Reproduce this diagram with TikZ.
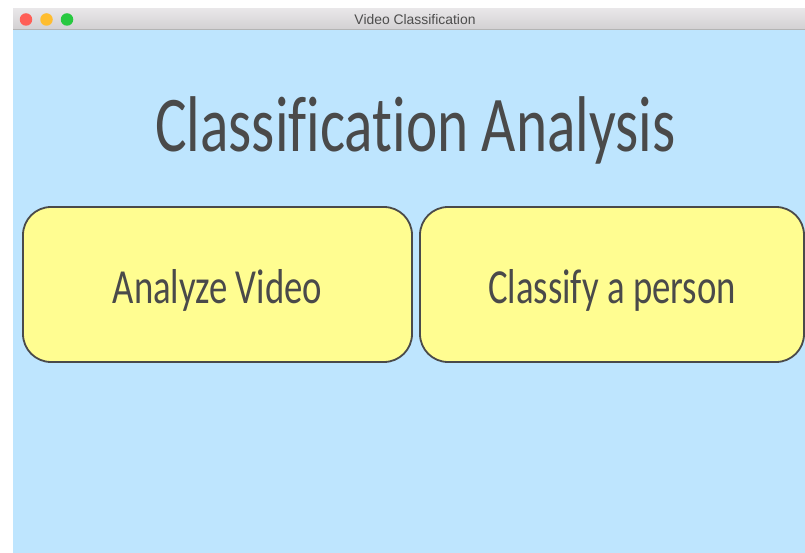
\documentclass[tikz,border=0pt]{standalone}
\usepackage{fontspec}
\usepackage{graphicx}
\setmainfont{Carlito}[Ligatures=NoCommon]
\newfontfamily\barfont{Liberation Sans}

\definecolor{pagebg}{RGB}{255,255,255}
\definecolor{winbg}{RGB}{190,229,254}
\definecolor{bartop}{RGB}{232,230,232}
\definecolor{barbottom}{RGB}{210,208,210}
\definecolor{barline}{RGB}{180,180,180}
\definecolor{bartext}{RGB}{77,77,77}
\definecolor{btnfill}{RGB}{255,253,145}
\definecolor{ink}{RGB}{74,74,74}
\definecolor{lightred}{RGB}{255,95,87}
\definecolor{lightyellow}{RGB}{255,189,46}
\definecolor{lightgreen}{RGB}{40,201,64}

\newcommand\condensed[1]{\scalebox{0.75}[1]{#1}}

\tikzset{
  btn/.style={draw=ink, line width=1.8pt, fill=btnfill, rounded corners=28pt,
    inner sep=0pt, text=ink, minimum height=155pt,
    text height=37pt, text depth=0pt,
    font=\fontsize{49}{56}\selectfont},
  headline/.style={inner sep=0pt, anchor=base, text=ink,
    font=\fontsize{79}{90}\selectfont},
  light/.style={circle, inner sep=0pt, minimum size=12.5pt},
  bartitle/.style={inner sep=0pt, anchor=base, text=bartext,
    font=\barfont\fontsize{13.9}{16}\selectfont}
}

\begin{document}
\begin{tikzpicture}[x=1pt, y=-1pt]
  \useasboundingbox (0,0) rectangle (805,553);
  \fill[pagebg] (0,0) rectangle (805,553);

  % window body and title bar
  \fill[winbg] (13,30) rectangle (805,553);
  \shade[top color=bartop, bottom color=barbottom] (13,9) rectangle (805,30);
  \draw[barline, line width=1pt] (13,30) -- (805,30);

  % traffic lights
  \node[light, fill=lightred]    (close) at (26,19.5) {};
  \node[light, fill=lightyellow] (mini)  at (46.5,19.5) {};
  \node[light, fill=lightgreen]  (zoom)  at (67,19.5) {};

  \node[bartitle] (wintitle) at (415,25) {Video Classification};

  % heading
  \node[headline] (heading) at (415.5,152) {\condensed{Classification Analysis}};

  % buttons
  \node[btn, minimum width=389pt] (analyze)  at (217.5,284.5) {\condensed{Analyze Video}};
  \node[btn, minimum width=384pt] (classify) at (612,284.5) {\condensed{Classify a person}};
\end{tikzpicture}
\end{document}
